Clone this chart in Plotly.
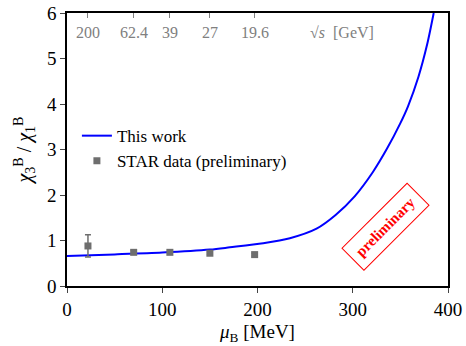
import plotly.graph_objects as go

# Model curve (This work)
mu_curve = [0, 50, 100, 150, 171, 206, 234, 262, 282, 302, 321, 336, 350,
            358, 369, 378, 385]
chi_curve = [0.66, 0.695, 0.735, 0.80, 0.85, 0.94, 1.05, 1.26, 1.56, 1.97,
             2.50, 3.02, 3.58, 3.95, 4.60, 5.30, 6.0]

# STAR data (preliminary)
mu_star = [22, 70, 108, 150, 197]
chi_star = [0.88, 0.74, 0.74, 0.72, 0.69]
err_star = [0.245, 0.04, 0.03, 0.03, 0.03]

# Top axis: collision energies
sqrt_s_labels = ["200", "62.4", "39", "27", "19.6"]

font_family = "Liberation Serif"

fig = go.Figure()
fig.add_trace(go.Scatter(x=mu_curve, y=chi_curve, mode="lines", name="This work",
                         line=dict(color="#0000ff", width=2, shape="spline",
                                   smoothing=0.8)))
fig.add_trace(go.Scatter(x=mu_star, y=chi_star, mode="markers",
                         name="STAR data (preliminary)",
                         marker=dict(symbol="square", size=7, color="#6e6e6e"),
                         error_y=dict(type="data", array=err_star, color="#6e6e6e",
                                      thickness=1.5, width=3)))
# invisible trace for top axis ticks
fig.add_trace(go.Scatter(x=mu_star, y=chi_star, xaxis="x2", mode="markers",
                         marker=dict(opacity=0), showlegend=False, hoverinfo="skip"))

ytop = (286 - 33) / 273
for m, lab in zip(mu_star, sqrt_s_labels):
    fig.add_annotation(x=m, y=ytop, xref="x", yref="paper",
                       text=lab, showarrow=False, yanchor="middle",
                       font=dict(family=font_family, size=16, color="#808080"))
fig.add_annotation(x=289, y=ytop, xref="x", yref="paper",
                   text="√<i>s</i>  [GeV]", showarrow=False, yanchor="middle",
                   font=dict(family=font_family, size=16, color="#808080"))
fig.add_annotation(x=334, y=1.3, xref="x", yref="y", text="<b>preliminary</b>",
                   showarrow=False, textangle=-45, bordercolor="#ff0000",
                   borderwidth=1, borderpad=7,
                   font=dict(family=font_family, size=15, color="#ff0000"))

fig.update_layout(
    width=466, height=346,
    margin=dict(l=67, r=18, t=13, b=60),
    paper_bgcolor="white", plot_bgcolor="white",
    font=dict(family=font_family, size=19, color="black"),
    showlegend=True,
    legend=dict(x=0.026, y=0.615, xanchor="left", yanchor="top",
                bgcolor="rgba(0,0,0,0)", font=dict(size=17), tracegroupgap=0),
    xaxis=dict(range=[0, 400], tickvals=[0, 100, 200, 300, 400], ticks="outside",
               ticklen=5, showline=True, linecolor="black", linewidth=1.5,
               mirror=True, showgrid=False, zeroline=False, automargin=False,
               title=dict(text="<i>μ</i><sub>B</sub> [MeV]", standoff=6,
                          font=dict(size=19))),
    xaxis2=dict(range=[0, 400], overlaying="x", side="top", tickvals=mu_star,
                ticks="inside", ticklen=5, tickcolor="#808080", automargin=False,
                showticklabels=False, showgrid=False, zeroline=False,
                showline=False),
    yaxis=dict(range=[0, 6], tickvals=[0, 1, 2, 3, 4, 5, 6], ticks="outside",
               ticklen=5, showline=True, linecolor="black", linewidth=1.5,
               mirror=True, showgrid=False, zeroline=False, automargin=False,
               title=dict(text="<i>χ</i><sub>3</sub><sup>B</sup> / <i>χ</i><sub>1</sub><sup>B</sup>",
                          standoff=10, font=dict(size=20))),
)

fig.write_html("out.html", config={"displayModeBar": False},
               post_script="document.body.style.margin='0';")
